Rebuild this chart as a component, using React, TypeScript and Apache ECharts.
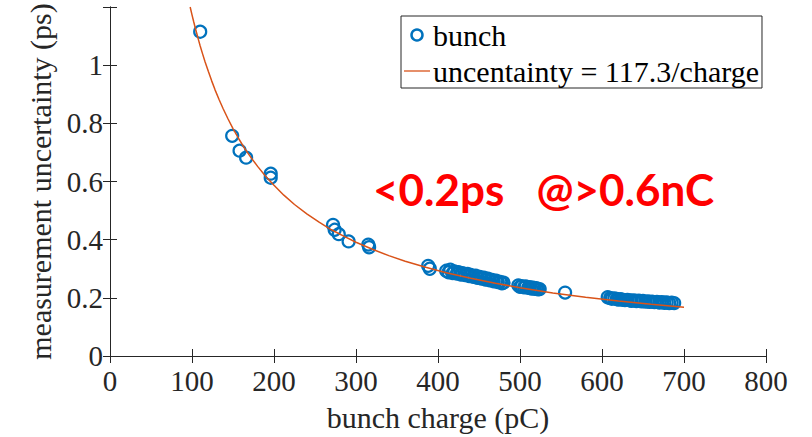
import React, { useEffect, useRef } from "react";
import * as echarts from "echarts";

// measured bunches: charge (pC) and measurement uncertainty (ps)
const bunchCharge: number[] = [
  110, 149, 158, 166, 196, 196,
  272, 274, 279, 291, 315, 316,
  388, 390,
  410, 413, 415, 418, 420, 423, 425, 428, 430, 433, 436, 438, 440, 443, 446, 448,
  451, 453, 456, 458, 461, 463, 466, 468, 471, 473, 476, 478, 480,
  498, 500, 502, 505, 507, 510, 512, 514, 516, 518, 520, 522, 524,
  555,
  607, 610, 612, 615, 618, 620, 623, 626, 628, 631, 634, 636, 639, 642, 645, 648,
  650, 653, 656, 658, 661, 664, 667, 670, 673, 676, 679, 682, 685, 688,
];
const bunchUncertainty: number[] = [
  1.115, 0.757, 0.706, 0.682, 0.627, 0.613,
  0.451, 0.434, 0.419, 0.394, 0.383, 0.374,
  0.31, 0.3,
  0.293, 0.288, 0.297, 0.285, 0.291, 0.283, 0.288, 0.28, 0.285, 0.278, 0.282, 0.275, 0.279, 0.272, 0.276, 0.269,
  0.272, 0.266, 0.269, 0.263, 0.266, 0.26, 0.262, 0.257, 0.259, 0.254, 0.255, 0.25, 0.252,
  0.243, 0.238, 0.24, 0.236, 0.239, 0.234, 0.237, 0.232, 0.235, 0.231, 0.233, 0.229, 0.23,
  0.218,
  0.202, 0.199, 0.197, 0.198, 0.196, 0.194, 0.195, 0.193, 0.192, 0.193, 0.191, 0.19, 0.191, 0.189, 0.19, 0.188,
  0.189, 0.187, 0.188, 0.186, 0.187, 0.185, 0.186, 0.184, 0.185, 0.183, 0.184, 0.182, 0.183, 0.182,
];

// fitted curve: uncentainty = 117.3 / charge
const fitCharge: number[] = [
  97.75, 100, 102, 104, 106, 108, 110, 113, 116, 120, 124, 128, 133, 138, 144, 150,
  157, 164, 172, 180, 190, 200, 212, 225, 240, 255, 270, 285, 300, 320, 340, 360,
  385, 410, 440, 470, 500, 540, 580, 620, 660, 700,
];
const fitUncertainty: number[] = [
  1.2, 1.173, 1.15, 1.128, 1.107, 1.086, 1.066, 1.038, 1.011, 0.978, 0.946, 0.916, 0.882, 0.85, 0.815, 0.782,
  0.747, 0.715, 0.682, 0.652, 0.617, 0.587, 0.553, 0.521, 0.489, 0.46, 0.434, 0.412, 0.391, 0.367, 0.345, 0.326,
  0.305, 0.286, 0.267, 0.25, 0.235, 0.217, 0.202, 0.189, 0.178, 0.168,
];

const xTicks = { min: 0, max: 800, interval: 100 };
const yTicks = { min: 0, max: 1.2, interval: 0.2 };

const scatterName = "bunch";
const fitName = "uncentainty = 117.3/charge";
const annotation = "<0.2ps   @>0.6nC";
const xTitle = "bunch charge (pC)";
const yTitle = "measurement uncertainty (ps)";

const AXIS = "#262626";
const BLUE = "#0072BD";
const ORANGE = "#D95319";
const SERIF = "Liberation Serif";
const FS = 29;
const TITLE_FS = 30;
const LEGEND_FS = 30;

export default function App() {
  const ref = useRef<HTMLDivElement>(null);
  useEffect(() => {
    document.body.style.margin = "0";
    if (!ref.current) return;
    const chart = echarts.init(ref.current, null, { renderer: "svg" });
    const tickStyle = { show: true, inside: true, length: 7, lineStyle: { color: AXIS, width: 1 } };
    const lineStyle = { show: true, lineStyle: { color: AXIS, width: 1 } };
    chart.setOption({
      animation: false,
      backgroundColor: "#ffffff",
      textStyle: { fontFamily: SERIF },
      grid: { left: 110, top: 7, right: 46, bottom: 78, containLabel: false },
      legend: {
        orient: "vertical",
        left: 401,
        top: 16,
        backgroundColor: "#ffffff",
        borderColor: AXIS,
        borderWidth: 1,
        borderRadius: 0,
        padding: [4, 3, 2, 3],
        itemGap: 6,
        itemWidth: 26,
        itemHeight: 11,
        textStyle: { fontFamily: SERIF, fontSize: LEGEND_FS, lineHeight: LEGEND_FS, color: "#000", padding: [0, 0, 0, -2] },
        data: [
          { name: scatterName, icon: "circle", itemStyle: { color: "none", borderColor: BLUE, borderWidth: 2.5 } },
          { name: fitName, icon: "path://M0,0 H30 V1.5 H0 Z" },
        ],
      },
      xAxis: [
        {
          type: "value",
          ...xTicks,
          name: xTitle,
          nameLocation: "middle",
          nameGap: 46,
          nameTextStyle: { fontFamily: SERIF, fontSize: TITLE_FS, color: AXIS },
          axisLine: lineStyle,
          axisTick: tickStyle,
          axisLabel: { fontFamily: SERIF, fontSize: FS, color: AXIS, margin: 10 },
          splitLine: { show: false },
        },
        {
          type: "value",
          position: "top",
          ...xTicks,
          axisLine: lineStyle,
          axisTick: tickStyle,
          axisLabel: { show: false },
          splitLine: { show: false },
        },
      ],
      yAxis: [
        {
          type: "value",
          ...yTicks,
          name: yTitle,
          nameLocation: "middle",
          nameGap: 55,
          nameTextStyle: { fontFamily: SERIF, fontSize: TITLE_FS, color: AXIS },
          axisLine: lineStyle,
          axisTick: tickStyle,
          axisLabel: {
            fontFamily: SERIF,
            fontSize: FS,
            color: AXIS,
            margin: 7,
            formatter: (v: number) => (v > 1.05 ? "" : String(Math.round(v * 10) / 10)),
          },
          splitLine: { show: false },
        },
        {
          type: "value",
          position: "right",
          ...yTicks,
          axisLine: lineStyle,
          axisTick: tickStyle,
          axisLabel: { show: false },
          splitLine: { show: false },
        },
      ],
      graphic: [
        {
          type: "text",
          left: 373,
          top: 167,
          style: {
            text: annotation,
            fill: "#ff0000",
            font: "bold 44px Lato",
          },
        },
      ],
      series: [
        {
          name: fitName,
          type: "line",
          data: fitCharge.map((x, i) => [x, fitUncertainty[i]]),
          smooth: false,
          showSymbol: false,
          symbol: "none",
          lineStyle: { color: ORANGE, width: 1.5 },
          itemStyle: { color: ORANGE },
          z: 3,
        },
        {
          name: scatterName,
          type: "scatter",
          data: bunchCharge.map((x, i) => [x, bunchUncertainty[i]]),
          symbol: "circle",
          symbolSize: 12,
          itemStyle: { color: "none", borderColor: BLUE, borderWidth: 2.2, opacity: 1 },
          z: 2,
        },
      ],
    });
    return () => chart.dispose();
  }, []);
  return <div ref={ref} style={{ width: 812, height: 437 }} />;
}
